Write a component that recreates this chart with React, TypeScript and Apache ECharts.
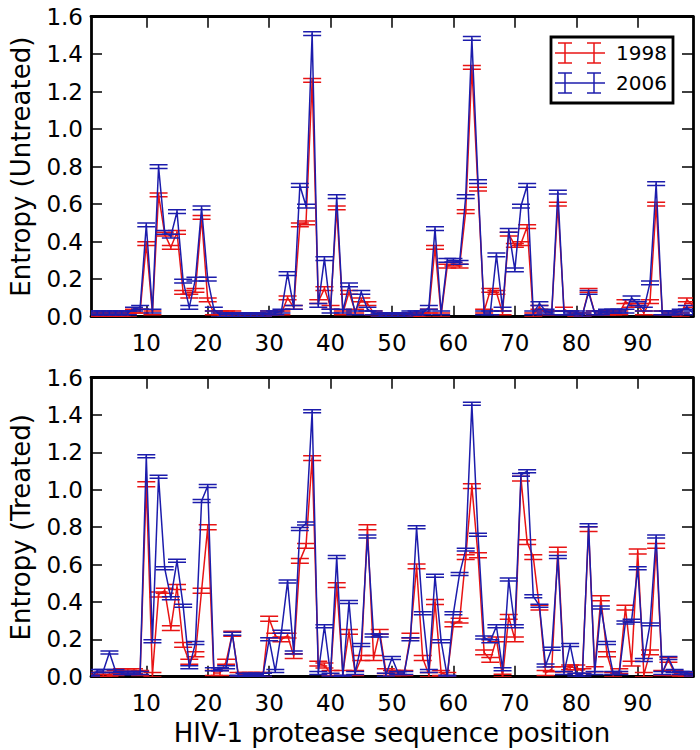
import React, { useEffect, useRef } from "react";
import * as echarts from "echarts";

// Sequence positions 1..99 (HIV-1 protease)
const positions: number[] = Array.from({ length: 99 }, (_, i) => i + 1);
const xTickValues = [10, 20, 30, 40, 50, 60, 70, 80, 90];
const yMin = 0;
const yMax = 1.6;
const yStep = 0.2;

const seriesNames = ["1998", "2006"];
const panelNames = ["Entropy (Untreated)", "Entropy (Treated)"];
const xAxisTitle = "HIV-1 protease sequence position";

// Untreated, 1998
const untreated1998 = [
  0.01, 0.01, 0.01, 0.01, 0.01, 0.01, 0.01, 0.03, 0.03, 0.39,
  0.02, 0.65, 0.44, 0.37, 0.45, 0.13, 0.11, 0.14, 0.53, 0.09,
  0.02, 0.02, 0.02, 0.02, 0.01, 0.01, 0.01, 0.01, 0.01, 0.02,
  0.02, 0.02, 0.10, 0.05, 0.49, 0.50, 1.26, 0.08, 0.15, 0.05,
  0.58, 0.02, 0.13, 0.03, 0.09, 0.07, 0.02, 0.01, 0.01, 0.01,
  0.01, 0.01, 0.01, 0.01, 0.01, 0.03, 0.37, 0.01, 0.27, 0.28,
  0.27, 0.56, 1.33, 0.68, 0.03, 0.14, 0.13, 0.02, 0.44, 0.38,
  0.39, 0.48, 0.01, 0.05, 0.02, 0.02, 0.60, 0.04, 0.02, 0.01,
  0.01, 0.14, 0.02, 0.02, 0.02, 0.02, 0.02, 0.08, 0.06, 0.06,
  0.02, 0.08, 0.60, 0.02, 0.02, 0.02, 0.01, 0.09, 0.06,
];
// Untreated, 2006
const untreated2006 = [
  0.02, 0.02, 0.02, 0.02, 0.02, 0.02, 0.02, 0.04, 0.05, 0.49,
  0.03, 0.80, 0.45, 0.43, 0.56, 0.19, 0.05, 0.20, 0.58, 0.20,
  0.04, 0.01, 0.01, 0.01, 0.01, 0.01, 0.01, 0.01, 0.01, 0.02,
  0.02, 0.03, 0.23, 0.05, 0.70, 0.59, 1.51, 0.06, 0.31, 0.03,
  0.64, 0.03, 0.17, 0.02, 0.13, 0.04, 0.02, 0.01, 0.01, 0.01,
  0.01, 0.01, 0.02, 0.02, 0.02, 0.05, 0.47, 0.02, 0.30, 0.30,
  0.29, 0.64, 1.485, 0.72, 0.02, 0.02, 0.33, 0.04, 0.46, 0.25,
  0.59, 0.70, 0.02, 0.07, 0.03, 0.02, 0.665, 0.02, 0.02, 0.02,
  0.01, 0.13, 0.02, 0.02, 0.03, 0.03, 0.03, 0.03, 0.10, 0.07,
  0.04, 0.18, 0.71, 0.02, 0.02, 0.02, 0.03, 0.05, 0.02,
];
// Treated, 1998
const treated1998 = [
  0.01, 0.01, 0.01, 0.01, 0.02, 0.03, 0.03, 0.03, 0.02, 1.03,
  0.01, 0.44, 0.46, 0.26, 0.48, 0.17, 0.08, 0.12, 0.46, 0.80,
  0.02, 0.02, 0.08, 0.23, 0.01, 0.01, 0.01, 0.01, 0.01, 0.31,
  0.22, 0.20, 0.22, 0.11, 0.62, 0.70, 1.17, 0.07, 0.06, 0.02,
  0.49, 0.02, 0.24, 0.02, 0.10, 0.80, 0.10, 0.24, 0.03, 0.02,
  0.02, 0.02, 0.22, 0.59, 0.10, 0.01, 0.40, 0.02, 0.01, 0.28,
  0.30, 0.64, 1.02, 0.65, 0.13, 0.09, 0.20, 0.00, 0.32, 0.20,
  1.06, 0.72, 0.64, 0.37, 0.02, 0.04, 0.68, 0.04, 0.05, 0.05,
  0.03, 0.79, 0.04, 0.42, 0.12, 0.01, 0.03, 0.37, 0.07, 0.67,
  0.01, 0.13, 0.70, 0.02, 0.09, 0.02, 0.01, 0.01, 0.01,
];
// Treated, 2006
const treated2006 = [
  0.00, 0.03, 0.03, 0.13, 0.03, 0.02, 0.02, 0.02, 0.02, 1.18,
  0.19, 1.07, 0.58, 0.42, 0.62, 0.38, 0.05, 0.18, 0.94, 1.02,
  0.04, 0.04, 0.05, 0.23, 0.00, 0.01, 0.01, 0.01, 0.01, 0.20,
  0.03, 0.24, 0.51, 0.13, 0.79, 0.82, 1.42, 0.02, 0.27, 0.01,
  0.64, 0.00, 0.40, 0.02, 0.17, 0.75, 0.22, 0.22, 0.01, 0.10,
  0.02, 0.02, 0.20, 0.80, 0.34, 0.03, 0.54, 0.19, 0.00, 0.34,
  0.55, 0.68, 1.46, 0.76, 0.21, 0.19, 0.27, 0.04, 0.52, 0.27,
  1.08, 1.10, 0.43, 0.38, 0.06, 0.15, 0.64, 0.02, 0.17, 0.01,
  0.01, 0.81, 0.02, 0.37, 0.18, 0.02, 0.02, 0.29, 0.30, 0.58,
  0.09, 0.28, 0.75, 0.02, 0.10, 0.03, 0.02, 0.02, 0.01,
];
// Half-width of the error bars (entropy units)
const errUntreated1998 = 0.01;
const errUntreated2006 = 0.01;
const errTreated1998 = 0.013;
const errTreated2006 = 0.008;

const RED = "#e81414";
const BLUE = "#1c1cac";
const FONT = "DejaVu Sans";
const CAP_HALF = 9;

function lineSeries(name: string, values: number[], color: string, idx: number, z: number) {
  return {
    type: "line",
    name,
    xAxisIndex: idx * 2,
    yAxisIndex: idx * 2,
    data: values.map((v, i) => [positions[i], v]),
    symbol: "none",
    showSymbol: false,
    silent: true,
    clip: true,
    z,
    lineStyle: { color, width: 1.5 },
  };
}

function capSeries(name: string, values: number[], err: number, color: string, idx: number, z: number) {
  return {
    type: "custom",
    name,
    xAxisIndex: idx * 2,
    yAxisIndex: idx * 2,
    silent: true,
    clip: true,
    z,
    encode: { x: 0, y: 1 },
    data: values.map((v, i) => [positions[i], v, err]),
    renderItem: (_params: any, api: any) => {
      const x = api.value(0) as number;
      const y = api.value(1) as number;
      const e = api.value(2) as number;
      const hi = api.coord([x, y + e]);
      const lo = api.coord([x, Math.max(0, y - e)]);
      const style = { stroke: color, lineWidth: 1.5, fill: "none" };
      return {
        type: "group",
        children: [
          { type: "line", shape: { x1: hi[0], y1: hi[1], x2: lo[0], y2: lo[1] }, style },
          { type: "line", shape: { x1: hi[0] - CAP_HALF, y1: hi[1], x2: hi[0] + CAP_HALF, y2: hi[1] }, style },
          { type: "line", shape: { x1: lo[0] - CAP_HALF, y1: lo[1], x2: lo[0] + CAP_HALF, y2: lo[1] }, style },
        ],
      };
    },
  };
}

const axisLine = { show: true, onZero: false, lineStyle: { color: "#000", width: 2.8 } };
const tickStyle = { color: "#000", width: 1.5 };

function xAxesFor(gridIndex: number, withName: boolean) {
  return [
    {
      type: "value",
      gridIndex,
      position: "bottom",
      min: 1,
      max: 99,
      axisLine,
      axisTick: { show: true, inside: true, length: 11, customValues: xTickValues, lineStyle: tickStyle },
      axisLabel: {
        show: true,
        customValues: xTickValues,
        margin: 15,
        fontFamily: FONT,
        fontSize: 23,
        color: "#000",
      },
      splitLine: { show: false },
      name: withName ? xAxisTitle : "",
      nameLocation: "middle",
      nameGap: 43,
      nameTextStyle: { fontFamily: FONT, fontSize: 26, color: "#000" },
    },
    {
      type: "value",
      gridIndex,
      position: "top",
      min: 1,
      max: 99,
      axisLine,
      axisTick: { show: true, inside: true, length: 11, customValues: xTickValues, lineStyle: tickStyle },
      axisLabel: { show: false, customValues: xTickValues },
      splitLine: { show: false },
    },
  ];
}

function yAxesFor(gridIndex: number, name: string) {
  return [
    {
      type: "value",
      gridIndex,
      position: "left",
      min: yMin,
      max: yMax,
      interval: yStep,
      axisLine,
      axisTick: { show: true, inside: true, length: 11, lineStyle: tickStyle },
      axisLabel: {
        show: true,
        margin: 8,
        fontFamily: FONT,
        fontSize: 23,
        color: "#000",
        formatter: (v: number) => v.toFixed(1),
      },
      splitLine: { show: false },
      name,
      nameLocation: "middle",
      nameGap: 57,
      nameTextStyle: { fontFamily: FONT, fontSize: 26, color: "#000" },
    },
    {
      type: "value",
      gridIndex,
      position: "right",
      min: yMin,
      max: yMax,
      interval: yStep,
      axisLine,
      axisTick: { show: true, inside: true, length: 11, lineStyle: tickStyle },
      axisLabel: { show: false },
      splitLine: { show: false },
    },
  ];
}

function legendGraphic() {
  const colors = [RED, BLUE];
  const children: any[] = [
    {
      type: "rect",
      shape: { x: 551, y: 37, width: 122, height: 66 },
      style: { fill: "#fff", stroke: "#000", lineWidth: 2.8 },
    },
  ];
  seriesNames.forEach((label, i) => {
    const cy = 53 + i * 30;
    const c = colors[i];
    const st = { stroke: c, lineWidth: 1.5 };
    children.push({ type: "line", shape: { x1: 555, y1: cy, x2: 605, y2: cy }, style: st });
    [565, 594].forEach((bx) => {
      children.push({ type: "line", shape: { x1: bx, y1: cy - 10, x2: bx, y2: cy + 10 }, style: st });
      children.push({ type: "line", shape: { x1: bx - 7, y1: cy - 10, x2: bx + 7, y2: cy - 10 }, style: st });
      children.push({ type: "line", shape: { x1: bx - 7, y1: cy + 10, x2: bx + 7, y2: cy + 10 }, style: st });
    });
    children.push({
      type: "text",
      x: 616,
      y: cy,
      style: { text: label, fontFamily: FONT, fontSize: 20, fill: "#000", textVerticalAlign: "middle", verticalAlign: "middle" },
    });
  });
  return [{ type: "group", z: 100, children }];
}

export default function App() {
  const ref = useRef<HTMLDivElement>(null);
  useEffect(() => {
    if (!ref.current) return;
    const chart = echarts.init(ref.current, undefined, { renderer: "svg" });
    const option: any = {
      animation: false,
      backgroundColor: "#fff",
      grid: [
        { left: 80.75, top: 16.7, width: 612.25, height: 300 },
        { left: 80.75, top: 377.7, width: 612.25, height: 299 },
      ],
      xAxis: [...xAxesFor(0, false), ...xAxesFor(1, true)],
      yAxis: [...yAxesFor(0, panelNames[0]), ...yAxesFor(1, panelNames[1])],
      series: [
        lineSeries(seriesNames[0], untreated1998, RED, 0, 2),
        capSeries(seriesNames[0], untreated1998, errUntreated1998, RED, 0, 3),
        lineSeries(seriesNames[1], untreated2006, BLUE, 0, 4),
        capSeries(seriesNames[1], untreated2006, errUntreated2006, BLUE, 0, 5),
        lineSeries(seriesNames[0], treated1998, RED, 1, 2),
        capSeries(seriesNames[0], treated1998, errTreated1998, RED, 1, 3),
        lineSeries(seriesNames[1], treated2006, BLUE, 1, 4),
        capSeries(seriesNames[1], treated2006, errTreated2006, BLUE, 1, 5),
      ],
      graphic: legendGraphic(),
    };
    chart.setOption(option);
    return () => chart.dispose();
  }, []);
  return (
    <div
      ref={ref}
      style={{ position: "fixed", left: 0, top: 0, width: 700, height: 750, background: "#fff" }}
    />
  );
}
